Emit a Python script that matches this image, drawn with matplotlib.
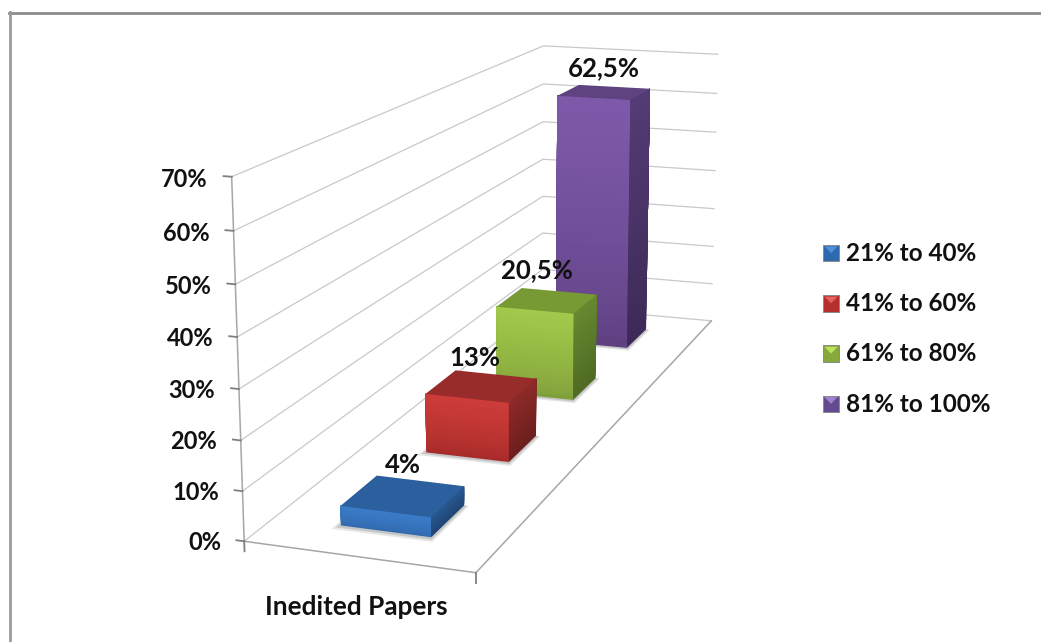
import numpy as np
import matplotlib
matplotlib.use('Agg')
import matplotlib.pyplot as plt
from matplotlib.colors import to_rgb
from matplotlib.legend_handler import HandlerBase
from matplotlib.lines import Line2D
from matplotlib.patches import Patch, Polygon, Rectangle
from mpl_toolkits.mplot3d import proj3d
from mpl_toolkits.mplot3d.art3d import Poly3DCollection

series_names = ['21% to 40%', '41% to 60%', '61% to 80%', '81% to 100%']
series_values = [4, 13, 20.5, 62.5]
value_labels = ['4%', '13%', '20,5%', '62,5%']
value_ticks = [0, 10, 20, 30, 40, 50, 60, 70]
tick_labels = ['0%', '10%', '20%', '30%', '40%', '50%', '60%', '70%']
category = 'Inedited Papers'

# front top, front bottom, top face, side top, side bottom
bar_colors = [
    ('#3a7cc9', '#3269ad', '#2c5f9e', '#285790', '#1f4675'),
    ('#cd3c38', '#a62b2a', '#982c2a', '#8c2a28', '#6c1f1e'),
    ('#a2c94a', '#7f9f3a', '#789a35', '#67882f', '#4f6b24'),
    ('#7e59a9', '#5f4182', '#5f4280', '#533b75', '#3e2a58'),
]
legend_colors = ['#2f69ad', '#b4302e', '#86a83c', '#644a8e']
legend_lights = ['#4a90dc', '#e8605c', '#bfe05c', '#a27fd0']

# excel moved the labels of the two middle bars by hand
label_shift_x = [0, -0.03, -0.053, 0]
label_shift_z = [6.3, 6.1, 7.2, 6.0]

plt.rcParams['font.family'] = ['Lato', 'DejaVu Sans']
TEXT = dict(fontweight='bold', color='#111111')

fig = plt.figure(figsize=(10.41, 6.42), dpi=100)
ax = fig.add_axes([0.1, 0.1, 0.6, 0.6], projection='3d')
ax.computed_zorder = False
ax.set_axis_off()
ax.patch.set_alpha(0)
ax.set_xlim(0, 1, view_margin=0)
ax.set_ylim(0, 1, view_margin=0)
ax.set_zlim(0, 70, view_margin=0)

# camera fitted to the wall and floor corners of the reference
ax.set_box_aspect((1, np.exp(1.3463), np.exp(0.41)))
ax.view_init(elev=14.02, azim=-70.94)
ax.set_proj_type('persp', focal_length=0.4348)

# place the square axes so that projected units land on the right pixels
scale, cx, cy = 4693.93, 515.70, 262.06
W, H = 1041, 642
xlo, xhi = ax.viewLim.intervalx
ylo, yhi = ax.viewLim.intervaly
size = scale * (xhi - xlo)
left = cx + xlo * scale
top = cy - yhi * scale
ax.set_position([left / W, (H - top - size) / H, size / W, size / H])

GRID = '#c9c9c9'
AXIS = '#a6a6a6'
TICK = '#7f7f7f'


def label(x, y, z, s, size, ha='center', zorder=20):
    # plain 2D text at the projected position
    tx, ty, _ = proj3d.proj_transform(x, y, z, ax.get_proj())
    ax.text2D(tx, ty, s, transform=ax.transData, ha=ha, va='center', fontsize=size, zorder=zorder, **TEXT)


# walls
for v in value_ticks:
    ax.plot([0, 0, 1], [0, 1, 1], [v, v, v], color=GRID, lw=0.9, zorder=1)

# floor
ax.plot([0, 1, 1], [0, 0, 1], [0, 0, 0], color=AXIS, lw=1.1, zorder=1)
ax.plot([0, 0], [0, 0], [0, 70], color=AXIS, lw=1.1, zorder=1)
for v, text in zip(value_ticks, tick_labels):
    ax.plot([-0.035, 0], [0, 0], [v, v], color=TICK, lw=1.3, zorder=1)
    label(-0.105, 0, v - 0.8, text, 17, ha='right', zorder=5)
for x in (0, 1):
    ax.plot([x, x], [0, 0], [0, -2], color=TICK, lw=1.3, zorder=1)

label(0.488, 0, -10, category, 18.8, zorder=5)


def mix(a, b, t):
    a, b = np.array(to_rgb(a)), np.array(to_rgb(b))
    return tuple(a + (b - a) * t)


def add_face(verts, color, zorder):
    ax.add_collection3d(Poly3DCollection([verts], facecolors=[color], edgecolors='none',
                                         linewidths=0, zorder=zorder))


def draw_bar(slot, value, colors, zorder):
    x0, x1 = 0.3, 0.7
    y0, y1 = (slot + 0.3) * 0.25, (slot + 0.7) * 0.25
    front_top, front_bottom, top, side_top, side_bottom = colors

    # soft shadow on the floor
    for grow, shade in ((1.0, '#e6e6e6'), (0.55, '#c6c6c6')):
        gx, gy = 0.022 * grow, 0.012 * grow
        add_face([(x0 - gx, y0 - gy, 0), (x1 + gx, y0 - gy, 0),
                  (x1 + gx, y1, 0), (x0 - gx, y1, 0)], shade, zorder)

    # gradient: each strip runs up to the top and paints over the one before, so no seams show
    zs = np.linspace(0, value, 25)
    for i in range(24):
        t = i / 23
        add_face([(x0, y0, zs[i]), (x1, y0, zs[i]), (x1, y0, value), (x0, y0, value)],
                 mix(front_bottom, front_top, t ** 0.7), zorder + 0.1)
        add_face([(x1, y0, zs[i]), (x1, y1, zs[i]), (x1, y1, value), (x1, y0, value)],
                 mix(side_bottom, side_top, t), zorder + 0.1)
    add_face([(x0, y0, value), (x1, y0, value), (x1, y1, value), (x0, y1, value)], top, zorder + 0.2)


# back to front, so the nearer bars cover the farther ones
for slot in reversed(range(len(series_values))):
    draw_bar(slot, series_values[slot], bar_colors[slot], 2 + (3 - slot))
    label(0.5 + label_shift_x[slot], (slot + 0.5) * 0.25, series_values[slot] + label_shift_z[slot],
          value_labels[slot], 18.5)


class Swatch(HandlerBase):
    # square with a lighter wedge at the top, as the bevelled excel legend keys
    def create_artists(self, legend, handle, xd, yd, w, h, fontsize, trans):
        base = Rectangle((xd, yd), w, h, facecolor=handle.get_facecolor(), edgecolor='#8a8a8a',
                         linewidth=0.7, transform=trans)
        wedge = Polygon([(xd + 1, yd + h - 1), (xd + w - 1, yd + h - 1), (xd + w / 2, yd + h / 2)],
                        facecolor=handle.light, edgecolor='none', transform=trans)
        return [base, wedge]


handles = []
for c, light in zip(legend_colors, legend_lights):
    patch = Patch(facecolor=c)
    patch.light = light
    handles.append(patch)

fig.legend(handles, series_names, loc='upper left', bbox_to_anchor=(823 / W, 1 - 242 / H),
           frameon=False, handlelength=0.66, handleheight=0.66, handletextpad=0.3,
           labelspacing=1.12, borderpad=0, borderaxespad=0,
           prop={'family': ['Lato', 'DejaVu Sans'], 'weight': 'bold', 'size': 17.5},
           labelcolor='#111111', handler_map={Patch: Swatch()})

# outer frame of the screenshot
fig.add_artist(Line2D([9 / W, 1], [1 - 12.5 / H, 1 - 12.5 / H], color='#8c8c8c', lw=2, transform=fig.transFigure))
fig.add_artist(Line2D([10 / W, 10 / W], [0, 1 - 12 / H], color='#9a9a9a', lw=2, transform=fig.transFigure))

fig.savefig('out.png', dpi=100, facecolor='white')
